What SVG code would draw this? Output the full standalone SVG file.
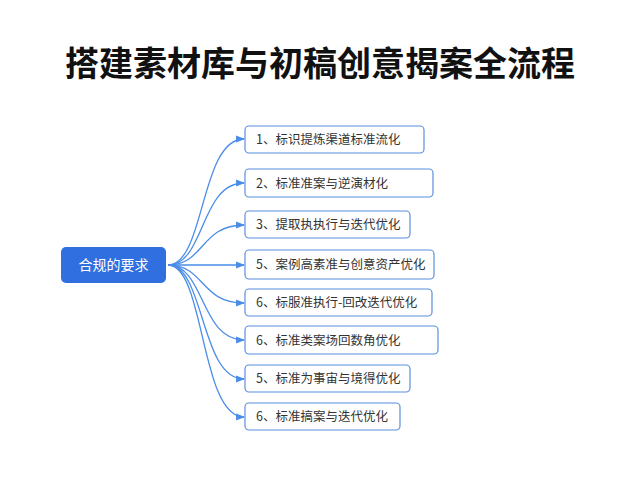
<svg xmlns="http://www.w3.org/2000/svg" width="640" height="480" viewBox="0 0 640 480">
<defs>
<marker id="ah" viewBox="0 0 8 8" refX="7" refY="4" markerWidth="7" markerHeight="7" orient="auto"><path d="M0,1 L8,4 L0,7 z" fill="#4a8de8"/></marker>
</defs>
<style>
.t{font-family:"Noto Sans CJK SC","Liberation Sans",sans-serif}
.box{fill:#fff;stroke:#5b8fe0;stroke-width:1.2}
.lb{font-size:12.5px;fill:#333}
.c{fill:none;stroke:#4a8de8;stroke-width:1.3;marker-end:url(#ah)}
</style>
<rect width="640" height="480" fill="#fff"/>
<text class="t" x="320" y="76" text-anchor="middle" font-size="34" font-weight="bold" fill="#111">搭建素材库与初稿创意揭案全流程</text>
<g id="connectors">
<path class="c" d="M168,265 C205,265 200,139 244,139"/>
<path class="c" d="M168,265 C205,265 200,183 244,183"/>
<path class="c" d="M168,265 C205,265 200,225 244,225"/>
<path class="c" d="M168,265 L244,265"/>
<path class="c" d="M168,265 C205,265 200,303 244,303"/>
<path class="c" d="M168,265 C205,265 200,340 244,340"/>
<path class="c" d="M168,265 C205,265 200,379 244,379"/>
<path class="c" d="M168,265 C205,265 200,417 244,417"/>
</g>
<g id="center"><rect x="61" y="247" width="105" height="36" rx="5" fill="#2f6fe0"/><text class="t" x="113.5" y="270" text-anchor="middle" font-size="14" fill="#fff">合规的要求</text></g>
<g id="n1"><rect class="box" x="245" y="126" width="179" height="27" rx="4"/><text class="t lb" x="256" y="144">1、标识提炼渠道标准流化</text></g>
<g id="n2"><rect class="box" x="245" y="169" width="188" height="28" rx="4"/><text class="t lb" x="256" y="188">2、标准准案与逆演材化</text></g>
<g id="n3"><rect class="box" x="245" y="211" width="165" height="27" rx="4"/><text class="t lb" x="256" y="229">3、提取执执行与迭代优化</text></g>
<g id="n4"><rect class="box" x="245" y="250" width="189" height="29" rx="4"/><text class="t lb" x="256" y="269">5、案例高素准与创意资产优化</text></g>
<g id="n5"><rect class="box" x="245" y="289" width="187" height="27" rx="4"/><text class="t lb" x="256" y="307">6、标服准执行-回改迭代优化</text></g>
<g id="n6"><rect class="box" x="245" y="326" width="193" height="28" rx="4"/><text class="t lb" x="256" y="345">6、标准类案场回数角优化</text></g>
<g id="n7"><rect class="box" x="245" y="365" width="165" height="27" rx="4"/><text class="t lb" x="256" y="383">5、标准为事宙与境得优化</text></g>
<g id="n8"><rect class="box" x="245" y="403" width="155" height="27" rx="4"/><text class="t lb" x="256" y="421">6、标准搞案与迭代优化</text></g>
</svg>
